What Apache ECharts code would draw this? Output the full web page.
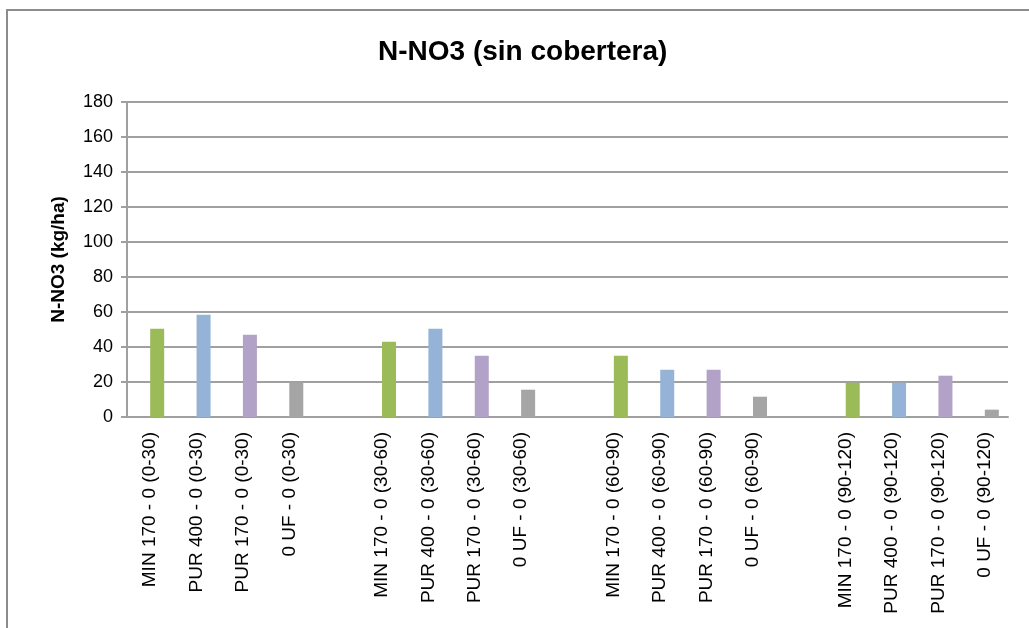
<!DOCTYPE html>
<html lang="es">
  <head>
    <meta charset="utf-8">
    <title>N-NO3 (sin cobertera)</title>
    <style>
      html, body { margin: 0; padding: 0; background: #fff; }
      #chart { width: 1029px; height: 628px; }
    </style>
  </head>
  <body>
    <div id="chart"></div>

    <script src="https://cdn.jsdelivr.net/npm/echarts@6/dist/echarts.min.js"></script>
    <script>
      // tratamientos y profundidades
      var treatments = ['MIN 170 - 0', 'PUR 400 - 0', 'PUR 170 - 0', '0 UF - 0'];
      var depths = ['(0-30)', '(30-60)', '(60-90)', '(90-120)'];

      // valores N-NO3 (kg/ha) por profundidad, en el orden de treatments
      var depth0_30 = [50.5, 58.5, 47.0, 19.8];
      var depth30_60 = [43.0, 50.5, 35.0, 15.6];
      var depth60_90 = [35.0, 27.0, 27.0, 11.6];
      var depth90_120 = [19.6, 19.6, 23.6, 4.2];

      var yTicks = [0, 20, 40, 60, 80, 100, 120, 140, 160, 180];

      var barColors = ['#9BBB59', '#95B3D7', '#B2A2C7', '#A5A5A5'];
      var gridColor = '#a0a0a0';
      var font = '"Liberation Sans", Arial, sans-serif';

      // categorias con un hueco vacio entre grupos
      var groups = [depth0_30, depth30_60, depth60_90, depth90_120];
      var categories = [];
      var values = [];
      var blanks = [];
      groups.forEach(function (g, gi) {
          if (gi > 0) {
              categories.push('');
              values.push('-');
              blanks.push('-');
          }
          g.forEach(function (v, ti) {
              categories.push(treatments[ti] + ' ' + depths[gi]);
              values.push({ value: v, itemStyle: { color: barColors[ti] } });
              blanks.push('-');
          });
      });

      var myChart = echarts.init(document.getElementById('chart'));

      myChart.setOption({
          animation: false,
          backgroundColor: '#fff',
          title: {
              text: 'N-NO3 (sin cobertera)',
              left: 373,
              top: 33,
              textStyle: {
                  fontFamily: font,
                  fontSize: 28,
                  fontWeight: 'bold',
                  color: '#000'
              }
          },
          graphic: [{
              type: 'rect',
              shape: { x: 7, y: 10, width: 1040, height: 640 },
              style: { fill: 'none', stroke: '#8c8c8c', lineWidth: 2 },
              silent: true
          }],
          grid: {
              left: 127,
              right: 21,
              top: 102,
              bottom: 211
          },
          xAxis: {
              type: 'category',
              data: categories,
              axisTick: { show: false },
              axisLine: { lineStyle: { color: gridColor, width: 2 } },
              axisLabel: {
                  interval: 0,
                  rotate: 90,
                  margin: 15,
                  fontFamily: font,
                  fontSize: 19,
                  color: '#000'
              }
          },
          yAxis: {
              type: 'value',
              min: yTicks[0],
              max: yTicks[yTicks.length - 1],
              interval: yTicks[1] - yTicks[0],
              name: 'N-NO3 (kg/ha)',
              nameLocation: 'middle',
              nameGap: 59,
              nameTextStyle: {
                  fontFamily: font,
                  fontSize: 19,
                  fontWeight: 'bold',
                  color: '#000'
              },
              axisLine: { show: true, lineStyle: { color: gridColor, width: 2 } },
              axisTick: { show: true, length: 6, lineStyle: { color: gridColor, width: 2 } },
              axisLabel: {
                  margin: 14,
                  fontFamily: font,
                  fontSize: 18,
                  color: '#000'
              },
              splitLine: { lineStyle: { color: gridColor, width: 2 } }
          },
          series: [{
              // serie vacia (como en la hoja original), desplaza las barras
              type: 'bar',
              data: blanks,
              barWidth: 14,
              barGap: '0%'
          }, {
              name: 'N-NO3',
              type: 'bar',
              data: values,
              barWidth: 14,
              barGap: '0%'
          }]
      });
    </script>
  </body>
</html>
